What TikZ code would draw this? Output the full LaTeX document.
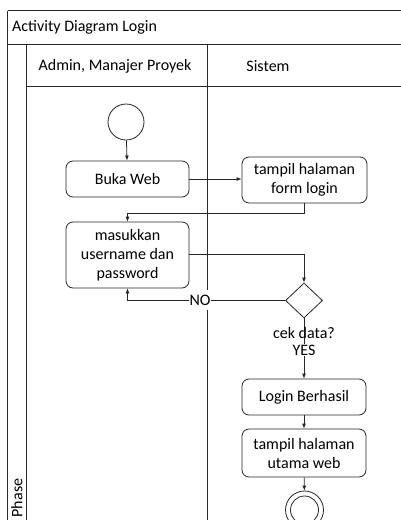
\documentclass[tikz,border=0pt]{standalone}
\usepackage{fontspec}
\setmainfont{Carlito}
\usetikzlibrary{arrows.meta,shapes.geometric}
\tikzset{
  ln/.style={draw=black!85, line width=0.8pt},
  act/.style={ln, rounded corners=7pt, align=center, inner sep=2pt, font=\fontsize{16}{19}\selectfont},
  flow/.style={ln, -{Latex[length=5pt,width=4pt]}},
  txt/.style={font=\fontsize{16}{19}\selectfont, align=center, inner sep=1pt},
}
\begin{document}
\begin{tikzpicture}[x=1pt,y=-1pt]
\useasboundingbox (0,0) rectangle (401,520);
% frame
\draw[ln] (7.5,10.5) -- (401,10.5);
\draw[ln] (7.5,10.5) -- (7.5,520);
\draw[ln] (7.5,44) -- (401,44);
\draw[ln] (26,44) -- (26,520);
\draw[ln] (26,86) -- (401,86);
\draw[ln] (207,44) -- (207,520);
\node[txt, anchor=west] (title) at (11,27) {Activity Diagram Login};
\node[txt] (lane1) at (115,66) {Admin, Manajer Proyek};
\node[txt] (lane2) at (268,66) {Sistem};
\node[txt, rotate=90] (phase) at (17,498) {Phase};
% nodes
\node[ln, circle, minimum size=36pt, inner sep=0pt] (start) at (126,122) {};
\node[act, minimum width=123pt, minimum height=36pt] (buka) at (127.5,179) {Buka Web};
\node[act, minimum width=125pt, minimum height=46pt] (form) at (304.5,180) {tampil halaman\\form login};
\node[act, minimum width=123pt, minimum height=66pt] (masuk) at (127.5,255) {masukkan\\username dan\\password};
\node[ln, diamond, minimum width=37pt, minimum height=35pt, inner sep=0pt] (cek) at (304,300.5) {};
\node[act, minimum width=124pt, minimum height=36pt] (login) at (304,397) {Login Berhasil};
\node[act, minimum width=124pt, minimum height=48pt] (utama) at (304,453) {tampil halaman\\utama web};
\node[ln, circle, minimum size=38pt, inner sep=0pt] (end) at (304.5,510) {};
\node[ln, circle, minimum size=28pt, inner sep=0pt] (endin) at (304.5,510) {};
\coordinate (c1) at (304,213);
\coordinate (c2) at (127.5,213);
% connectors
\draw[flow] (start) -- (buka);
\draw[flow] (buka.east) -- (form.west |- buka.east);
\draw[flow] (form.south -| c1) -- (c1) -- (c2) -- (masuk.north);
\draw[flow] (masuk.east |- 0,254) -| (cek.north);
\draw[flow] (cek.south) -- (login.north);
\draw[flow] (cek.west) -| (masuk.south);
\draw[flow] (login) -- (utama);
\draw[flow] (utama) -- (end);
% labels
\node[txt, fill=white, inner xsep=1pt, inner ysep=5pt] (no) at (200,300) {NO};
\node[txt] (cekl) at (304,333) {cek data?};
\node[txt, fill=white, inner ysep=1pt] (yes) at (304,350) {YES};
\end{tikzpicture}
\end{document}
